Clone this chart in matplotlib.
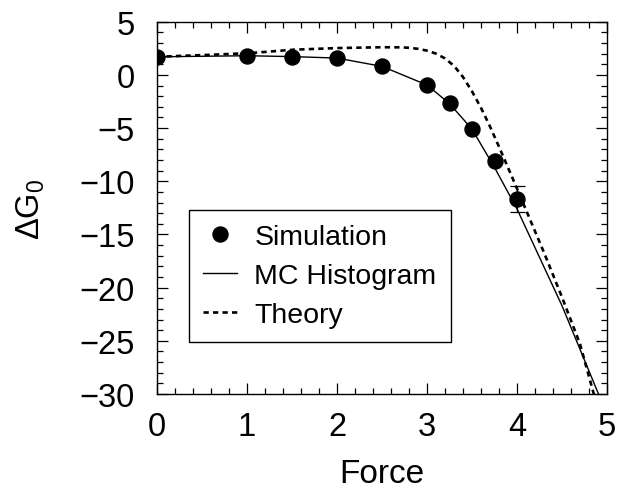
import numpy as np
import matplotlib
matplotlib.use("Agg")
import matplotlib.pyplot as plt
from matplotlib.ticker import MultipleLocator

plt.rcParams['font.family'] = ['Liberation Sans', 'DejaVu Sans']
plt.rcParams['mathtext.fontset'] = 'custom'
plt.rcParams['mathtext.rm'] = 'Liberation Sans'
plt.rcParams['mathtext.it'] = 'Liberation Sans'

# Simulation points
force_sim = np.array([0.0, 1.0, 1.5, 2.0, 2.5, 3.0, 3.25, 3.5, 3.75, 4.0])
dg_sim = np.array([1.72, 1.80, 1.72, 1.56, 0.80, -0.95, -2.65, -5.08, -8.13, -11.65])
err_sim = np.array([0, 0, 0, 0, 0, 0, 0, 0, 0, 1.25])

# MC Histogram curve
force_mc = [0.0, 0.5, 1.0, 1.5, 2.0, 2.5, 2.7, 3.0, 3.25, 3.5, 3.75, 4.0, 4.5, 4.92]
dg_mc = [1.70, 1.75, 1.80, 1.72, 1.58, 0.80, 0.10, -0.95, -2.70, -5.10, -8.70, -12.60, -21.70, -30.30]

# Theory curve
force_th = [0.0, 0.3, 0.63, 1.05, 1.52, 2.0, 2.5, 2.7, 2.8, 2.9, 3.0, 3.1, 3.2, 3.3,
            3.4, 3.5, 3.6, 3.7, 3.81, 3.94, 4.05, 4.15, 4.30, 4.50, 4.70, 4.85, 4.92]
dg_th = [1.70, 1.80, 1.90, 2.06, 2.37, 2.52, 2.60, 2.59, 2.55, 2.45, 2.28, 2.00, 1.55, 0.85,
         -0.20, -1.55, -3.10, -4.85, -6.95, -9.50, -11.70, -13.70, -16.70, -20.90, -25.30, -29.90, -31.50]

xticks = [0, 1, 2, 3, 4, 5]
yticks = [5, 0, -5, -10, -15, -20, -25, -30]

fig = plt.figure(figsize=(6.18, 4.89), dpi=100)
ax = fig.add_axes([157/618, 1-395/489, 450/618, 372.3/489])

ax.plot(force_mc, dg_mc, '-', color='black', lw=1.0, label='MC Histogram', zorder=2)
ax.plot(force_th, dg_th, color='black', lw=1.9, linestyle=(0, (2.0, 1.6)), label='Theory', zorder=2)
ax.plot(force_sim, dg_sim, 'o', color='black', ms=10.8, label='Simulation', zorder=3)
m = err_sim > 0
ax.errorbar(force_sim[m], dg_sim[m], yerr=err_sim[m], fmt='none', ecolor='black',
            elinewidth=0.9, capsize=5.4, capthick=0.9, zorder=3)

ax.set_xlim(0, 5)
ax.set_ylim(-30, 5)
ax.set_xticks(xticks)
ax.set_yticks(yticks)
ax.set_xticklabels([str(t) for t in xticks])
ax.set_yticklabels([str(t).replace('-', '\u2212') for t in yticks])
ax.xaxis.set_minor_locator(MultipleLocator(0.2))
ax.yaxis.set_minor_locator(MultipleLocator(1))
ax.tick_params(which='both', direction='in', top=True, right=True, width=0.9, colors='black')
ax.tick_params(which='major', length=8, labelsize=23.5)
ax.tick_params(which='minor', length=4.5)
ax.tick_params(axis='x', which='major', pad=12)
ax.tick_params(axis='y', which='major', pad=16)
for s in ax.spines.values():
    s.set_linewidth(1.0)

ax.set_xlabel('Force', fontsize=24, labelpad=12)
ax.set_ylabel('\u0394G$_0$', fontsize=23.5, labelpad=23)

h, l = ax.get_legend_handles_labels()
order = [2, 0, 1]
leg = ax.legend([h[i] for i in order], [l[i] for i in order], loc='upper left',
                bbox_to_anchor=(32/450, 184/372.3), borderaxespad=0, fontsize=20.5,
                frameon=True, fancybox=False, edgecolor='black', framealpha=1,
                handlelength=1.2, handletextpad=0.6, labelspacing=0.45, borderpad=0.5,
                numpoints=1)
leg.get_frame().set_linewidth(1.0)

fig.savefig('out.png', dpi=100)
